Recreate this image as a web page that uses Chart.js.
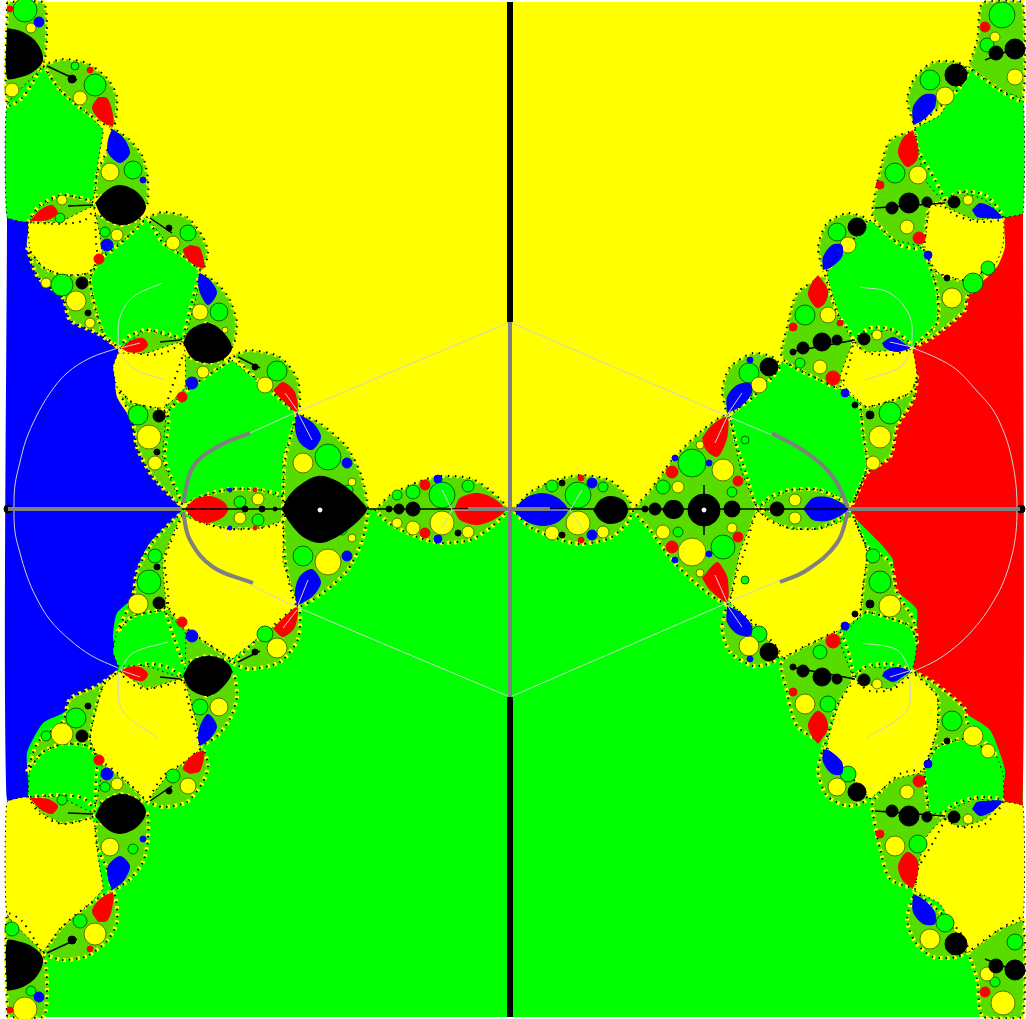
<!DOCTYPE html>
<html><head><meta charset="utf-8">
<style>html,body{margin:0;padding:0;background:#fff}canvas{display:block;filter:blur(.5px)}</style>
<script src="https://cdn.jsdelivr.net/npm/chart.js@4"></script></head>
<body><canvas id="c" width="1026" height="1019"></canvas>
<script>
const plane=[1026,1019];
const yellowField=[[7,2],[1023,2],[1023,509],[7,509]];
const greenField=[[7,509],[1023,509],[1023,1017],[7,1017]];
const blueField=[[7,218],[28,222],[27,247],[38,277],[63,298],[70,320],[97,333],[118,348],[115,373],[117,397],[133,423],[137,447],[153,477],[177,503],[182,509],[177,516],[150,543],[137,570],[138,593],[117,613],[113,637],[118,670],[90,690],[63,713],[43,723],[27,753],[28,797],[7,800]];
const redField=[[1023,213],[1005,217],[1005,247],[997,267],[967,297],[965,310],[933,337],[913,347],[917,377],[913,400],[897,427],[890,457],[867,473],[853,503],[850,509],[853,516],[880,543],[893,560],[893,587],[917,610],[913,667],[942,690],[965,713],[990,730],[1005,770],[1003,800],[1023,805]];
const bandShapes=[
[[7,2],[43,2],[47,30],[45,60],[40,70],[22,98],[7,105]],
[[43,65],[63,59],[87,63],[107,78],[117,97],[113,127],[87,113],[60,90]],
[[112,127],[130,140],[143,157],[148,180],[146,207],[120,187],[97,197],[97,173],[107,150]],
[[28,222],[40,205],[63,195],[95,204],[85,220],[60,224]],
[[95,213],[120,225],[147,217],[100,257]],
[[27,247],[38,277],[63,298],[70,320],[97,333],[118,347],[103,333],[90,280],[100,258],[88,273],[63,275],[43,267]],
[[147,217],[163,212],[187,217],[203,237],[208,253],[202,270],[185,257],[163,243]],
[[200,272],[217,283],[230,300],[237,323],[232,347],[208,323],[185,337],[190,310]],
[[120,348],[128,337],[147,330],[183,340],[167,352],[147,355]],
[[183,355],[207,363],[232,358],[190,388],[165,413]],
[[117,387],[133,423],[137,447],[153,477],[182,505],[165,460],[167,413],[133,403]],
[[233,355],[250,350],[280,357],[298,380],[298,412],[267,388],[250,373]],
[[297,413],[320,423],[347,447],[362,477],[368,509],[362,541],[347,571],[320,595],[297,606],[285,559],[283,509],[285,460]],
[[183,509],[200,497],[230,489],[260,490],[283,497],[283,522],[260,528],[230,529],[200,522]],
[[375,510],[390,495],[420,481],[440,476],[470,478],[490,490],[507,509],[490,528],[470,540],[440,543],[420,538],[390,524]],
[[513,510],[530,492],[555,480],[580,475],[610,480],[628,497],[632,510],[628,522],[610,538],[580,544],[555,538],[530,527]],
[[632,510],[650,490],[672,460],[700,432],[727,415],[737,447],[745,470],[757,507],[770,510],[757,512],[745,550],[737,572],[727,603],[700,587],[672,560],[650,530]],
[[757,509],[770,497],[790,490],[820,490],[850,509],[820,528],[790,528],[770,521]],
[[727,415],[722,390],[730,367],[753,353],[773,357],[780,367],[753,397],[733,412]],
[[825,275],[797,293],[787,327],[782,358],[820,380],[840,387],[853,340],[837,313]],
[[823,272],[818,247],[827,223],[848,213],[867,220],[847,247],[827,270]],
[[915,130],[890,140],[880,170],[873,205],[873,218],[900,245],[922,247],[930,205],[945,203],[935,180],[918,150]],
[[915,128],[907,100],[915,77],[933,62],[957,62],[968,70],[960,87],[940,107]],
[[968,67],[977,40],[983,2],[1023,2],[1023,100],[1000,90]],
[[940,203],[960,192],[985,195],[1003,218],[980,222],[955,215]],
[[853,340],[870,328],[893,330],[912,347],[890,355],[865,352]],
[[860,403],[867,407],[910,393],[917,377],[913,400],[897,427],[890,457],[867,473],[853,503],[867,467],[863,433]],
[[923,247],[937,272],[965,280],[995,265],[967,297],[965,310],[933,337],[913,347],[937,323],[937,290]],
[[7,1017],[43,1017],[47,989],[45,959],[40,949],[22,921],[7,914]],
[[43,954],[63,960],[87,956],[107,941],[117,922],[113,892],[87,906],[60,929]],
[[112,892],[130,879],[143,862],[148,839],[146,812],[120,832],[97,822],[97,846],[107,869]],
[[28,797],[40,814],[63,824],[95,815],[85,799],[60,795]],
[[95,806],[120,794],[147,802],[100,762]],
[[27,772],[38,742],[63,721],[70,699],[97,686],[118,672],[103,686],[90,739],[100,761],[88,746],[63,744],[43,752]],
[[147,802],[163,807],[187,802],[203,782],[208,766],[202,749],[185,762],[163,776]],
[[200,747],[217,736],[230,719],[237,696],[232,672],[208,696],[185,682],[190,709]],
[[120,671],[128,682],[147,689],[183,679],[167,667],[147,664]],
[[183,664],[207,656],[232,661],[190,631],[165,606]],
[[117,632],[133,596],[137,572],[153,542],[182,514],[165,559],[167,606],[133,616]],
[[233,664],[250,669],[280,662],[298,639],[298,607],[267,631],[250,646]],
[[727,604],[722,629],[730,652],[753,666],[773,662],[780,652],[753,622],[733,607]],
[[825,744],[797,726],[787,692],[782,661],[820,639],[840,632],[853,679],[837,706]],
[[823,747],[818,772],[827,796],[848,806],[867,799],[847,772],[827,749]],
[[915,889],[890,879],[880,849],[873,814],[873,801],[900,774],[922,772],[930,814],[945,816],[935,839],[918,869]],
[[915,891],[907,919],[915,942],[933,957],[957,957],[968,949],[960,932],[940,912]],
[[968,952],[977,979],[983,1017],[1023,1017],[1023,919],[1000,929]],
[[940,816],[960,827],[985,824],[1003,801],[980,797],[955,804]],
[[853,679],[870,691],[893,689],[912,672],[890,664],[865,667]],
[[860,616],[867,612],[910,626],[917,642],[913,619],[897,592],[890,562],[867,546],[853,516],[867,552],[863,586]],
[[923,772],[937,747],[965,739],[995,754],[967,722],[965,709],[933,682],[913,672],[937,696],[937,729]]
];
const greenPetals=[
[[43,67],[60,90],[87,113],[103,130],[100,150],[97,170],[93,200],[63,195],[40,207],[28,222],[7,217],[7,105]],
[[147,217],[167,243],[200,270],[197,293],[183,340],[147,330],[120,347],[103,333],[90,280],[103,255],[127,237]],
[[232,360],[253,377],[297,412],[283,457],[283,497],[260,490],[230,489],[200,497],[182,503],[163,460],[167,413],[185,390],[213,372]],
[[28,797],[30,769],[43,752],[63,744],[88,746],[102,766],[93,812],[60,797]],
[[118,666],[147,666],[183,677],[185,632],[163,611],[133,616],[117,632],[113,652]],
[[730,417],[770,377],[783,362],[820,380],[842,390],[860,403],[863,433],[867,467],[853,503],[840,497],[820,490],[790,490],[770,500],[757,507],[740,467]],
[[870,220],[895,240],[923,247],[930,265],[937,290],[937,323],[913,347],[890,330],[860,337],[853,340],[840,318],[827,273],[845,250]],
[[915,128],[940,115],[968,67],[1000,90],[1023,100],[1023,213],[1003,217],[985,200],[960,192],[943,200],[925,180],[918,150]],
[[853,677],[865,667],[912,669],[917,642],[910,626],[867,612],[845,632],[840,642]],
[[930,814],[945,812],[975,799],[1003,801],[1003,774],[995,754],[965,739],[937,747],[925,769],[927,794]]
];
const yellowPetals=[
[[28,223],[60,222],[93,207],[102,253],[88,273],[63,275],[43,267],[30,250]],
[[118,353],[147,353],[183,342],[185,387],[163,408],[133,403],[117,387],[113,367]],
[[43,952],[60,929],[87,906],[103,889],[100,869],[97,849],[93,819],[63,824],[40,812],[28,797],[7,802],[7,914]],
[[147,802],[167,776],[200,749],[197,726],[183,679],[147,689],[120,672],[103,686],[90,739],[103,764],[127,782]],
[[232,659],[253,642],[297,607],[283,562],[283,522],[260,528],[230,529],[200,522],[182,516],[163,559],[167,606],[185,629],[213,647]],
[[730,602],[770,642],[783,657],[820,639],[842,629],[860,616],[863,586],[867,552],[853,516],[840,522],[820,529],[790,529],[770,519],[757,512],[740,552]],
[[870,799],[895,779],[923,772],[930,754],[937,729],[937,696],[913,672],[890,689],[860,682],[853,679],[840,701],[827,746],[845,769]],
[[915,891],[940,904],[968,952],[1000,929],[1023,919],[1023,806],[1003,802],[985,819],[960,827],[943,819],[925,839],[918,869]],
[[853,342],[865,352],[912,350],[917,377],[910,393],[867,407],[845,387],[840,377]],
[[930,205],[945,207],[975,220],[1003,218],[1003,245],[995,265],[965,280],[937,272],[925,250],[927,225]]
];
const blueTears=[
[[112,129],[123,137],[130,153],[120,163],[108,153],[108,140]],
[[200,273],[210,280],[217,293],[208,305],[200,293],[198,280]],
[[297,413],[313,423],[321,437],[312,450],[300,443],[295,428]],
[[112,890],[123,882],[130,866],[120,856],[108,866],[108,879]],
[[200,746],[210,739],[217,726],[208,714],[200,726],[198,739]],
[[297,606],[313,596],[321,582],[312,569],[300,576],[295,591]],
[[513,510],[527,497],[543,493],[558,498],[568,510],[558,522],[543,526],[527,522]],
[[803,509],[813,498],[827,497],[840,502],[848,509],[840,516],[827,521],[813,520]],
[[727,413],[727,397],[737,385],[750,383],[752,393],[740,407]],
[[823,270],[823,257],[832,245],[842,245],[842,257],[830,268]],
[[913,125],[913,107],[923,95],[935,95],[935,107],[923,120]],
[[972,210],[980,203],[993,208],[1002,218],[987,218],[977,217]],
[[882,343],[893,337],[907,345],[910,348],[897,352],[885,348]],
[[727,606],[727,622],[737,634],[750,636],[752,626],[740,612]],
[[823,749],[823,762],[832,774],[842,774],[842,762],[830,751]],
[[913,894],[913,912],[923,924],[935,924],[935,912],[923,899]],
[[972,809],[980,816],[993,811],[1002,801],[987,801],[977,802]],
[[882,676],[893,682],[907,674],[910,671],[897,667],[885,671]]
];
const redTears=[
[[98,97],[107,98],[112,110],[113,126],[100,120],[92,108]],
[[30,221],[40,210],[52,205],[58,213],[48,220]],
[[190,245],[200,248],[204,268],[190,262],[183,250]],
[[121,348],[132,340],[143,338],[148,345],[140,352],[128,352]],
[[273,390],[283,382],[295,392],[297,412],[280,398]],
[[98,922],[107,921],[112,909],[113,893],[100,899],[92,911]],
[[30,798],[40,809],[52,814],[58,806],[48,799]],
[[190,774],[200,771],[204,751],[190,757],[183,769]],
[[121,671],[132,679],[143,681],[148,674],[140,667],[128,667]],
[[273,629],[283,637],[295,627],[297,607],[280,621]],
[[185,509],[195,499],[210,496],[224,502],[228,510],[222,518],[208,523],[195,520]],
[[454,510],[460,498],[477,493],[493,498],[505,510],[493,520],[477,525],[460,520]],
[[702,438],[712,425],[727,417],[728,433],[724,447],[717,457],[706,450]],
[[702,578],[717,562],[724,570],[728,580],[727,602],[710,590]],
[[818,275],[828,290],[825,303],[817,308],[808,295],[812,282]],
[[913,130],[918,147],[917,160],[907,167],[898,153],[903,138]],
[[818,744],[828,729],[825,716],[817,711],[808,724],[812,737]],
[[913,889],[918,872],[917,859],[907,852],[898,866],[903,881]]
];
const blackBlobs=[
[[7,28],[23,32],[37,43],[43,60],[33,72],[17,78],[7,78]],
[[95,203],[107,190],[120,185],[137,192],[146,207],[137,220],[120,225],[103,217]],
[[183,343],[190,330],[208,323],[223,332],[232,348],[222,360],[207,363],[192,358]],
[[282,510],[288,497],[300,485],[318,476],[335,480],[350,490],[362,502],[367,509],[362,517],[350,528],[335,538],[320,543],[303,537],[290,523]],
[[7,991],[23,987],[37,976],[43,959],[33,947],[17,941],[7,941]],
[[95,816],[107,829],[120,834],[137,827],[146,812],[137,799],[120,794],[103,802]],
[[183,676],[190,689],[208,696],[223,687],[232,671],[222,659],[207,656],[192,661]],
[[593,510],[600,500],[610,496],[623,500],[628,510],[623,520],[610,524],[600,520]],
[[662,510],[667,502],[673,500],[680,502],[684,510],[680,517],[673,519],[667,517]]
];
const greenBeads=[[25,10,12],[95,85,11],[133,170,9],[60,218,5],[105,232,5],[62,285,11],[188,233,8],[219,312,9],[138,415,10],[277,371,10],[328,457,13],[240,502,6],[258,520,6],[442,495,13],[413,492,7],[468,486,6],[397,495,5],[578,495,13],[552,486,6],[603,487,5],[692,463,14],[663,487,7],[732,492,5],[723,547,12],[678,532,5],[890,413,11],[973,283,10],[988,268,7],[805,315,10],[749,373,10],[837,232,9],[895,173,10],[930,80,10],[1002,15,13],[987,45,7],[800,363,5],[31,991,5],[12,929,7],[80,921,7],[133,849,5],[62,800,5],[105,787,5],[46,736,5],[76,718,10],[173,776,7],[200,707,8],[149,582,12],[155,556,7],[265,634,8],[303,556,10],[873,556,7],[880,582,11],[952,721,10],[828,704,8],[820,652,7],[759,634,8],[848,774,8],[918,844,9],[945,923,9],[995,982,5],[1015,942,8],[75,66,4],[348,490,5],[342,530,5],[745,440,4],[745,580,4]];
const yellowBeads=[[31,28,5],[12,90,7],[80,98,7],[110,172,9],[62,200,5],[117,235,6],[46,283,5],[76,301,10],[90,323,5],[173,243,7],[200,312,8],[203,372,6],[149,437,12],[155,463,7],[265,385,8],[303,463,10],[258,499,6],[240,518,6],[442,523,12],[413,528,7],[468,532,6],[397,523,5],[578,523,12],[552,533,7],[603,532,6],[723,470,11],[678,487,6],[692,552,14],[663,532,7],[732,528,5],[880,437,11],[873,463,7],[952,298,10],[828,315,8],[820,367,7],[759,385,8],[848,245,8],[918,175,9],[907,227,7],[945,96,9],[1015,77,8],[995,37,5],[968,200,5],[877,335,5],[795,500,6],[25,1009,12],[95,934,11],[110,847,9],[117,784,6],[62,734,11],[188,786,8],[219,707,9],[138,604,10],[277,648,10],[328,562,13],[890,606,11],[973,736,10],[988,751,7],[805,704,10],[749,646,10],[837,787,9],[895,846,10],[930,939,10],[1003,1003,12],[987,974,7],[907,792,7],[968,819,5],[877,684,5],[795,518,6],[225,330,3],[352,482,4],[352,538,4],[700,445,4],[700,573,4]];
const blueBeads=[[39,22,5],[143,180,3],[347,463,5],[438,479,4],[438,539,4],[592,483,5],[592,535,5],[675,458,3],[709,463,3],[675,560,3],[709,554,3],[845,393,4],[750,360,3],[928,255,4],[39,997,5],[143,839,3],[347,556,5],[845,626,4],[750,659,3],[928,764,4],[107,245,6],[192,383,6],[107,774,6],[192,636,6],[230,490,2],[230,528,2]];
const redBeads=[[10,9,3],[90,70,3],[99,259,5],[182,397,5],[425,485,5],[425,533,5],[581,478,3],[581,540,3],[672,472,6],[738,481,5],[672,547,6],[738,537,5],[793,327,4],[833,378,7],[840,323,3],[919,238,6],[880,185,4],[985,27,5],[10,1010,3],[90,949,3],[99,760,5],[182,622,5],[793,692,4],[833,641,7],[919,781,6],[880,834,4],[985,992,5],[255,490,2],[255,528,2]];
const blackBeads=[[72,79,4],[82,283,6],[88,313,3],[159,416,6],[157,452,3],[169,228,3],[255,367,3],[413,509,7],[399,509,5],[389,509,3],[458,533,3],[562,483,3],[562,535,3],[704,510,16],[732,509,8],[655,509,6],[645,509,3],[777,509,7],[769,367,9],[857,227,9],[822,342,9],[803,348,6],[837,340,5],[793,352,3],[855,405,3],[870,415,4],[947,278,3],[909,203,10],[892,208,6],[927,202,5],[956,75,11],[1015,49,10],[996,53,7],[954,202,6],[864,339,6],[72,940,4],[82,736,6],[88,706,3],[159,603,6],[157,567,3],[169,791,3],[255,652,3],[769,652,9],[857,792,9],[822,677,9],[803,671,6],[837,679,5],[793,667,3],[855,614,3],[870,604,4],[947,741,3],[909,816,10],[892,811,6],[927,817,5],[956,944,11],[1015,970,10],[996,966,7],[954,817,6],[864,680,6],[8,509,4],[1021,509,4],[245,509,3],[262,509,3],[275,509,2]];
const whiteDots=[[320,510,2],[704,510,2]];
const needles=[[[47,66],[77,80]],[[68,206],[93,205]],[[150,218],[172,233]],[[160,342],[180,340]],[[238,357],[260,368]],[[47,953],[77,939]],[[68,813],[93,814]],[[150,801],[172,786]],[[160,677],[180,679]],[[238,662],[260,651]],[[182,509],[848,509]],[[704,485],[704,535]],[[790,352],[855,340]],[[875,208],[945,203]],[[985,60],[1023,45]],[[790,667],[855,679]],[[875,811],[945,816]],[[985,959],[1023,974]]];
const grayThick=[
[[8,509],[182,509]],[[848,509],[1020,509]],[[468,509],[550,509]],[[510,322],[510,697]],
[[250,433],[217,447],[193,467],[183,503]],[[183,512],[190,540],[213,567],[253,583]],
[[772,433],[807,453],[833,477],[848,507]],[[848,512],[837,543],[807,570],[780,582]]
];
const blackThick=[[[510,2],[510,322]],[[510,697],[510,1017]]];
const thinLines=[
[[510,322],[297,412],[250,433]],[[510,697],[297,607],[250,585]],[[510,322],[727,416],[772,435]],[[510,697],[727,603],[780,580]],
[[118,348],[90,358],[67,373],[50,393],[36,417],[26,440],[20,462],[15,485],[14,509],[15,532],[20,553],[27,576],[36,597],[50,620],[70,640],[92,656],[118,668]],
[[913,348],[937,358],[957,370],[976,390],[993,410],[1005,435],[1012,460],[1016,485],[1017,509],[1016,532],[1012,555],[1003,583],[990,607],[977,625],[960,643],[937,660],[912,672]],
[[118,347],[120,317],[133,297],[162,283]],[[118,350],[133,368],[165,380]],[[120,670],[133,653],[168,642]],[[118,673],[122,710],[158,738]],
[[912,347],[910,317],[890,293],[860,287]],[[912,348],[900,367],[865,380]],[[910,670],[897,650],[863,643]],[[910,675],[907,710],[867,738]],
[[298,413],[312,440]],[[297,410],[285,393]],[[297,610],[283,628]],[[298,605],[308,580]],
[[727,417],[715,443]],[[727,602],[715,575]],[[727,605],[742,627]],[[727,415],[742,393]],
[[120,348],[140,343]],[[120,670],[140,677]],[[912,347],[890,342]],[[912,670],[890,677]],
[[452,510],[468,510]],[[550,510],[568,510]],[[452,510],[442,490]],[[452,510],[442,528]],[[570,510],[582,490]],[[570,510],[582,528]]
];

const sets=[];
const pts=a=>a.map(p=>({x:p[0],y:p[1]}));
function shape(a,fill,t){sets.push({type:'line',data:pts(a.concat([a[0]])),fill:'shape',backgroundColor:fill,borderColor:fill,borderWidth:0,pointRadius:0,tension:t||0});}
function rim(a,col,w,dash,off,t){sets.push({type:'line',data:pts(a.concat([a[0]])),fill:false,borderColor:col,borderWidth:w,borderDash:dash,borderDashOffset:off||0,pointRadius:0,tension:t||0});}
function stroke(a,col,w,t){sets.push({type:'line',data:pts(a),fill:false,borderColor:col,borderWidth:w,pointRadius:0,tension:t});}
function beads(a,col,edge){sets.push({type:'bubble',data:a.map(p=>({x:p[0],y:p[1],r:p[2]})),backgroundColor:col,borderColor:edge,borderWidth:1});}
shape(yellowField,'#ffff00');shape(greenField,'#00ff00');shape(blueField,'#0000ff',.2);shape(redField,'#ff0000',.2);
bandShapes.forEach(a=>shape(a,'#58dc00',.25));
greenPetals.forEach(a=>shape(a,'#00ff00',.12));
yellowPetals.forEach(a=>shape(a,'#ffff00',.12));
bandShapes.forEach(a=>{rim(a,'#ffff00',4,[3,4],0,.25);rim(a,'#000000',2,[1.5,5.5],1,.25);});
greenPetals.concat(yellowPetals).forEach(a=>rim(a,'#000000',1,[1.5,3.5],0,.12));
beads(greenBeads,'#00ff00','rgba(0,70,0,.8)');
beads(yellowBeads,'#ffff00','rgba(60,90,0,.8)');
blueTears.forEach(a=>shape(a,'#0000ff',.3));
redTears.forEach(a=>shape(a,'#ff0000',.3));
beads(blueBeads,'#0000ff','#0000ff');
beads(redBeads,'#ff0000','#ff0000');
needles.forEach(a=>stroke(a,'#000000',1.5,0));
blackBlobs.forEach(a=>shape(a,'#000000',.35));
beads(blackBeads,'#000000','#000000');
thinLines.forEach(a=>stroke(a,'#d2d2d2',1,.35));
grayThick.forEach(a=>stroke(a,'#808080',4,.4));
blackThick.forEach(a=>stroke(a,'#000000',6,0));
beads(whiteDots,'#ffffff','#ffffff');
sets.forEach((d,i)=>{d.order=sets.length-i;d.clip=false;});

new Chart(document.getElementById('c'),{
 type:'line',
 data:{datasets:sets},
 options:{responsive:false,animation:false,events:[],devicePixelRatio:1,
  layout:{padding:0,autoPadding:false},
  plugins:{legend:{display:false},tooltip:{enabled:false},title:{display:false}},
  scales:{x:{type:'linear',display:false,min:0,max:plane[0]},y:{type:'linear',display:false,min:0,max:plane[1],reverse:true}}
 }
});
</script></body></html>
